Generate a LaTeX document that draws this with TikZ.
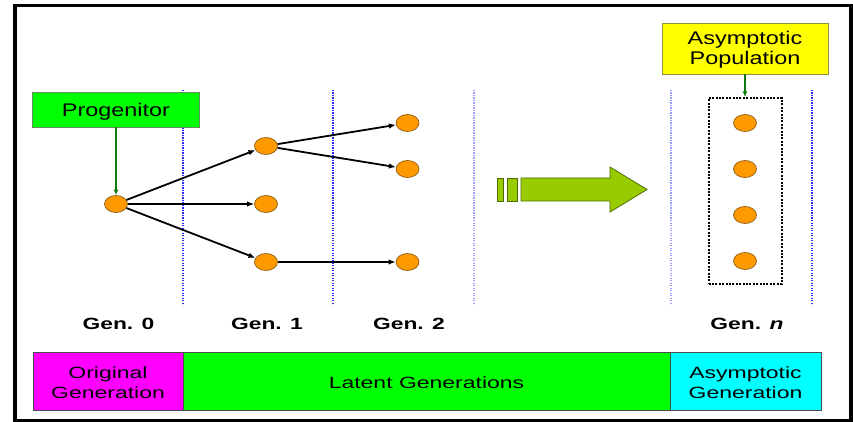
\documentclass[tikz,border=0pt]{standalone}
\usepackage{fontspec}
\setmainfont[FakeStretch=1.28]{Liberation Sans}
\newfontfamily\genfont[FakeStretch=1.4]{Liberation Sans}
\newfontfamily\barfont[FakeStretch=1.41]{Liberation Sans}
\usetikzlibrary{shapes.geometric,arrows.meta}
\definecolor{orng}{HTML}{FF9900}
\definecolor{orngdk}{HTML}{8A5A10}
\definecolor{brgreen}{HTML}{00FF00}
\definecolor{boxedge}{HTML}{5F8F5F}
\definecolor{yell}{HTML}{FFFF00}
\definecolor{yedge}{HTML}{8F8F40}
\definecolor{arrgreen}{HTML}{99CC00}
\definecolor{arredge}{HTML}{4F6B00}
\definecolor{dkgreen}{HTML}{0F7A0F}
\definecolor{blueA}{HTML}{2A2AFF}
\definecolor{blueB}{HTML}{9A9AFF}
\definecolor{magen}{HTML}{FF00FF}
\definecolor{cyn}{HTML}{00FFFF}
\begin{document}
\begin{tikzpicture}[x=1pt,y=-1pt,
  gnode/.style={ellipse,minimum width=23pt,minimum height=17pt,inner sep=0pt,fill=orng,draw=orngdk,line width=0.7pt},
  blk/.style={draw=black,line width=1.8pt,-{Latex[length=7pt,width=5.5pt]}},
  garr/.style={draw=dkgreen,line width=2.4pt,-{Latex[length=5.5pt,width=5pt]}},
  vline/.style={line width=1.1pt,dash pattern=on 1.2pt off 1.3pt},
  lbl/.style={font=\fontsize{18.3}{20}\selectfont,align=center,inner sep=0pt},
  barlbl/.style={font=\barfont\fontsize{16.3}{20}\selectfont,align=center,inner sep=0pt,draw=black!70,line width=0.6pt},
  gen/.style={font=\genfont\bfseries\fontsize{16.3}{19}\selectfont,inner sep=0pt,anchor=base}
]
\useasboundingbox (0,0) rectangle (853,422);
\fill[white] (0,0) rectangle (853,422);
% outer frame
\draw[line width=3.5pt] (15,5.5) rectangle (851,420.5);

% dotted separators
\draw[vline,blueA] (183,90) -- (183,305);
\draw[vline,blueA] (333,90) -- (333,305);
\draw[vline,blueB] (474,90) -- (474,305);
\draw[vline,blueB] (671,90) -- (671,305);
\draw[vline,blueA] (812,90) -- (812,305);

% progenitor
\node[lbl,fill=brgreen,draw=boxedge,line width=0.7pt,minimum width=167pt,minimum height=35pt,text height=15pt,text depth=0pt] (prog) at (116,109.5) {Progenitor};

% generation nodes
\node[gnode] (g0) at (116,204) {};
\node[gnode] (g1a) at (266,146) {};
\node[gnode] (g1b) at (266,204) {};
\node[gnode] (g1c) at (266,262) {};
\node[gnode] (g2a) at (407.5,123) {};
\node[gnode] (g2b) at (407.5,169) {};
\node[gnode] (g2c) at (407.5,262) {};

\draw[garr] (prog) -- (g0);
\draw[blk] (g0) -- (g1a);
\draw[blk] (g0) -- (g1b);
\draw[blk] (g0) -- (g1c);
\draw[blk] (g1a) -- (g2a);
\draw[blk] (g1a) -- (g2b);
\draw[blk] (g1c) -- (g2c);

% big arrow
\filldraw[fill=arrgreen,draw=arredge,line width=0.8pt]
  (521,178) -- (610,178) -- (610,167) -- (647,189.5) -- (610,212) -- (610,201) -- (521,201) -- cycle;
\filldraw[fill=arrgreen,draw=arredge,line width=0.8pt] (497,178) rectangle (503,201);
\filldraw[fill=arrgreen,draw=arredge,line width=0.8pt] (507,178) rectangle (517,201);

% asymptotic population
\node[lbl,fill=yell,draw=yedge,line width=0.7pt,minimum width=166pt,minimum height=51pt,text height=33pt,text depth=0pt] (ypop) at (745,48.5) {Asymptotic\\Population};
\node[draw=black,line width=2pt,dash pattern=on 2pt off 1.4pt,minimum width=73pt,minimum height=186pt,inner sep=0pt] (grp) at (745,191) {};
\draw[garr] (ypop) -- (grp);
\node[gnode] (n1) at (745,123) {};
\node[gnode] (n2) at (745,169) {};
\node[gnode] (n3) at (745,215) {};
\node[gnode] (n4) at (745,261) {};

% generation labels
\node[gen] (l0) at (118.5,329) {Gen. 0};
\node[gen] (l1) at (267,329) {Gen. 1};
\node[gen] (l2) at (409,329) {Gen. 2};
\node[gen] (ln) at (747,329) {Gen. \textit{n}};

% bottom bar
\node[barlbl,fill=magen,minimum width=150pt,minimum height=58pt,text height=35.4pt,text depth=0pt] (orig) at (108,381) {Original\\Generation};
\node[barlbl,fill=brgreen,minimum width=487pt,minimum height=58pt,text height=15.4pt,text depth=0pt] (lat) at (426.5,381) {Latent Generations};
\node[barlbl,fill=cyn,minimum width=151pt,minimum height=58pt,text height=35.4pt,text depth=0pt] (asy) at (745.5,381) {Asymptotic\\Generation};
\end{tikzpicture}
\end{document}
